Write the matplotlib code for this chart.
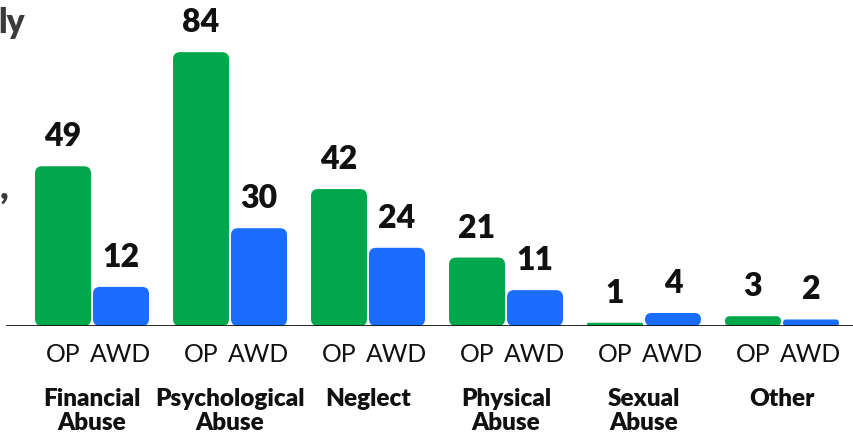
import matplotlib
matplotlib.use("Agg")
import matplotlib.pyplot as plt
from matplotlib.patches import FancyBboxPatch
import numpy as np

plt.rcParams['font.family'] = ['Lato', 'DejaVu Sans']

# datos
categorias = ["Financial\nAbuse", "Psychological\nAbuse", "Neglect",
              "Physical\nAbuse", "Sexual\nAbuse", "Other"]
op = [49, 84, 42, 21, 1, 3]
awd = [12, 30, 24, 11, 4, 2]
series = ["OP", "AWD"]

verde = "#00a84b"
azul = "#1a6dff"

W, H = 854, 434
fig = plt.figure(figsize=(W / 100, H / 100), dpi=100)
# eje con base en y=326 px desde arriba
ax = fig.add_axes([0, 108 / H, 1, (H - 108) / H])
ax.set_xlim(-92 / 138, (W - 92) / 138)
ax.set_ylim(0, 100)

x = np.arange(len(categorias))
ancho = 56 / 138
desp = 29 / 138

b1 = ax.bar(x - desp, op, ancho, color=verde)
b2 = ax.bar(x + desp, awd, ancho, color=azul)

# barras redondeadas
px_x = 138.0
px_y = (H - 108) / 100.0
aspecto = px_x / px_y
for barras in (b1, b2):
    for r in barras:
        bx, by = r.get_x(), r.get_y()
        bw, bh = r.get_width(), r.get_height()
        rad = min(7 / px_x, (bh / aspecto) / 2)
        p = FancyBboxPatch((bx, by), bw, bh,
                           boxstyle=f"round,pad=0,rounding_size={rad}",
                           mutation_aspect=aspecto,
                           facecolor=r.get_facecolor(), edgecolor="none")
        r.remove()
        ax.add_patch(p)

# etiquetas de valor
for xs, vals in ((x - desp, op), (x + desp, awd)):
    for xi, v in zip(xs, vals):
        ax.annotate(str(v), (xi, v), xytext=(0, 14.4), textcoords="offset points",
                    ha="center", va="baseline", fontsize=23,
                    fontweight="heavy", color="#111111")

ax.axhline(0, xmin=7 / W, xmax=1, color="#111111", lw=2, zorder=5)

# ticks OP / AWD
pos = np.concatenate([x - desp, x + desp])
lab = [series[0]] * len(x) + [series[1]] * len(x)
ax.set_xticks(pos)
ax.set_xticklabels(lab, fontsize=17.8, color="#111111")
ax.tick_params(axis="x", length=0, pad=12)
ax.set_yticks([])
for s in ax.spines.values():
    s.set_visible(False)

# categorias
for xi, c in zip(x, categorias):
    ax.annotate(c, (xi, 0), xycoords=("data", "axes fraction"),
                xytext=(0, -45), textcoords="offset points",
                ha="center", va="top", fontsize=17.5, fontweight="heavy",
                color="#111111", linespacing=1.08)

# texto recortado a la izquierda
fig.text(25 / W, 1 - 33 / H, "ly", ha="right", va="baseline",
         fontsize=24, fontweight="heavy", color="#3a3a3a")
fig.text(9 / W, 1 - 199 / H, ",", ha="right", va="baseline",
         fontsize=26, fontweight="heavy", color="#3a3a3a")

fig.savefig("out.png", dpi=100)
